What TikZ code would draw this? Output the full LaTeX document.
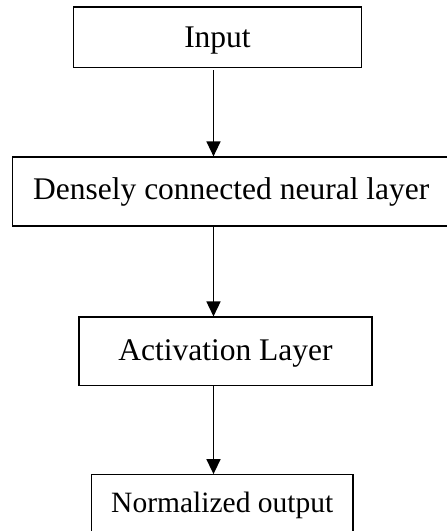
\documentclass[tikz,border=0pt]{standalone}
\usepackage{fontspec}
\setmainfont{Liberation Serif}
\usetikzlibrary{arrows.meta}
\begin{document}
\begin{tikzpicture}[x=1pt,y=-1pt,
  box/.style={draw=black, line width=1.2pt, rectangle, inner sep=0pt,
    text height=20.5pt, text depth=0pt, font=\fontsize{31.5}{36}\selectfont},
  conn/.style={line width=1.5pt, -{Triangle[width=14pt,length=15pt]}}]
\useasboundingbox (0,0) rectangle (447,531);
\clip (0,0) rectangle (447,531);
\node[box, minimum width=288pt, minimum height=60.5pt] (in) at (217.5,37.2) {Input};
\node[box, minimum width=437.5pt, minimum height=69pt] (dense) at (231.25,191.5) {\raisebox{2pt}{Densely connected neural layer}};
\node[box, minimum width=293pt, minimum height=68.7pt] (act) at (225.5,351.4) {\raisebox{1.5pt}{Activation Layer}};
\node[box, minimum width=261.5pt, minimum height=61pt, text height=19.5pt, font=\fontsize{29.5}{34}\selectfont] (out) at (222.25,505.2) {\raisebox{2.5pt}{Normalized output}};
\draw[conn] (in.south -| 213.5,0) ++(0,2) -- (dense.north -| 213.5,0);
\draw[conn] (dense.south -| 213.5,0) -- (act.north -| 213.5,0);
\draw[conn] (act.south -| 213.5,0) -- (out.north -| 213.5,0);
\end{tikzpicture}
\end{document}
